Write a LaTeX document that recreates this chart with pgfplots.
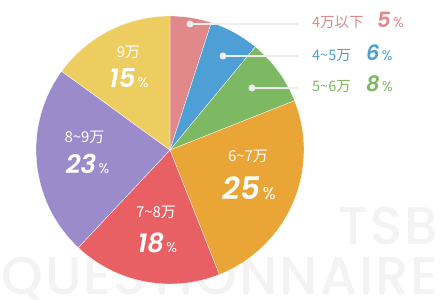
\documentclass[border=0pt]{standalone}
\usepackage{pgfplots}
\pgfplotsset{compat=1.18}
\usepackage{pgfplotstable}
\usepackage{fontspec}
\setmainfont{Noto Sans CJK JP}
\newfontfamily\numfont{Poppins}[BoldItalicFont={Poppins SemiBold Italic}]
\newfontfamily\wmfont{Poppins Medium}[LetterSpace=4]

\definecolor{cA}{HTML}{E0888A}
\definecolor{cB}{HTML}{4E9FD5}
\definecolor{cC}{HTML}{7DB863}
\definecolor{cD}{HTML}{E9A535}
\definecolor{cE}{HTML}{E96064}
\definecolor{cF}{HTML}{9B8BCB}
\definecolor{cG}{HTML}{EECD60}
\definecolor{wm}{HTML}{F3F3F3}
\definecolor{ln}{HTML}{EDEDED}

\pgfplotstableread{
value color
5 cA
6 cB
8 cC
25 cD
18 cE
23 cF
15 cG
}\piedata

\newcommand{\lab}[1]{{\fontsize{15}{15}\selectfont #1}}
\newcommand{\olab}[1]{{\fontsize{14.5}{14.5}\selectfont #1}}
\newcommand{\bignum}[3]{{\numfont\bfseries\itshape\fontsize{#1}{#1}\selectfont #3}{\numfont\fontsize{#2}{#2}\selectfont\,\%}}

\begin{document}
\begin{tikzpicture}
\begin{axis}[scale only axis, width=440pt, height=300pt,
  xmin=0, xmax=440, ymin=0, ymax=300, hide axis, clip=false]
% watermark
\node[anchor=base east, inner sep=0, text=wm] at (axis cs:438,55) {\wmfont\fontsize{53}{53}\selectfont TSB};
\node[anchor=base west, inner sep=0, text=wm] at (axis cs:1,5) {\wmfont\fontsize{53}{53}\selectfont QUESTIONNAIRE};
% pie
\def\anga{90}
\pgfplotsforeachungrouped \i in {0,...,6}{%
  \pgfplotstablegetelem{\i}{value}\of\piedata \let\v\pgfplotsretval
  \pgfplotstablegetelem{\i}{color}\of\piedata \let\c\pgfplotsretval
  \pgfmathsetmacro\angb{\anga-3.6*\v}%
  \edef\temp{\noexpand\fill[\c, draw=white, line width=0.3pt] (axis cs:170,150) -- (axis cs:{170+134*cos(\anga)},{150+134*sin(\anga)}) arc[start angle=\anga, end angle=\angb, radius=134pt] -- cycle;}%
  \temp
  \global\let\anga\angb
}
% leader lines
\draw[ln, line width=1.5pt] (axis cs:190,276) -- (axis cs:298,276);
\draw[ln, line width=1.5pt] (axis cs:223,244) -- (axis cs:298,244);
\draw[ln, line width=1.5pt] (axis cs:252,212) -- (axis cs:298,212);
\fill[ln] (axis cs:190,276) circle[radius=3.5pt];
\fill[ln] (axis cs:223,244) circle[radius=3.5pt];
\fill[ln] (axis cs:252,212) circle[radius=3.5pt];
% outer labels
\node[anchor=base west, inner sep=0, text=cA] at (axis cs:312,272) {\olab{4万以下}};
\node[anchor=base west, inner sep=0, text=cA] at (axis cs:377,272) {\bignum{21}{14}{5}};
\node[anchor=base west, inner sep=0, text=cB] at (axis cs:312,239) {\olab{4\textasciitilde 5万}};
\node[anchor=base west, inner sep=0, text=cB] at (axis cs:366,239) {\bignum{21}{14}{6}};
\node[anchor=base west, inner sep=0, text=cC] at (axis cs:312,208) {\olab{5\textasciitilde 6万}};
\node[anchor=base west, inner sep=0, text=cC] at (axis cs:366,208) {\bignum{21}{14}{8}};
% inner labels
\node[anchor=base, inner sep=0, text=white] at (axis cs:248,138) {\lab{6\textasciitilde 7万}};
\node[anchor=base, inner sep=0, text=white] at (axis cs:249,100) {\bignum{31}{17}{25}};
\node[anchor=base, inner sep=0, text=white] at (axis cs:128.5,242) {\lab{9万}};
\node[anchor=base, inner sep=0, text=white] at (axis cs:129,212) {\bignum{26}{14}{15}};
\node[anchor=base, inner sep=0, text=white] at (axis cs:84.5,157) {\lab{8\textasciitilde 9万}};
\node[anchor=base, inner sep=0, text=white] at (axis cs:87.5,126) {\bignum{26}{14}{23}};
\node[anchor=base, inner sep=0, text=white] at (axis cs:156,82) {\lab{7\textasciitilde 8万}};
\node[anchor=base, inner sep=0, text=white] at (axis cs:157.5,47) {\bignum{26}{14}{18}};
\end{axis}
\pgfresetboundingbox
\useasboundingbox (0,0) rectangle (440pt,300pt);
\end{tikzpicture}
\end{document}
